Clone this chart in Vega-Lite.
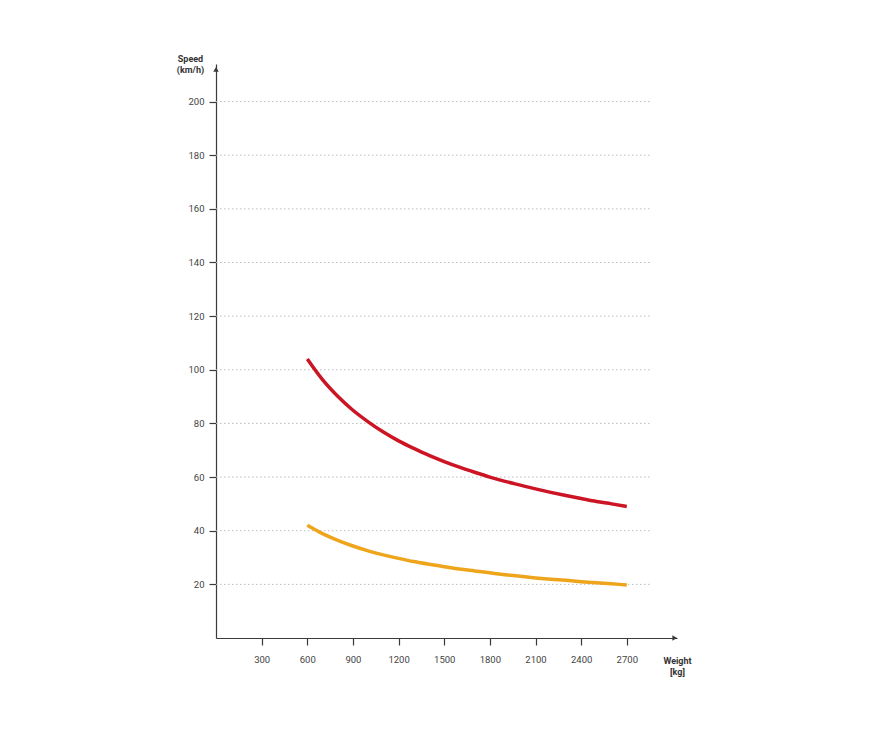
{
  "$schema": "https://vega.github.io/schema/vega-lite/v6.json",
  "autosize": "none",
  "padding": {"left": 216, "top": 64, "right": 192, "bottom": 93},
  "width": 461,
  "height": 574,
  "background": "white",
  "config": {
    "view": {"stroke": null},
    "font": "Roboto",
    "axis": {
      "domainColor": "#3a3a3a",
      "domainWidth": 1.2,
      "tickColor": "#3a3a3a",
      "tickWidth": 1.2,
      "tickSize": 7,
      "grid": false,
      "labelFont": "Roboto",
      "labelFontSize": 9.5,
      "labelColor": "#444444",
      "titleFont": "Roboto",
      "titleFontSize": 9,
      "titleFontWeight": "bold",
      "titleColor": "#333333",
      "titleLineHeight": 11
    }
  },
  "datasets": {
    "curves": [
      {"weight": 600, "speed": 104.0, "series": "high"},
      {"weight": 700, "speed": 96.3, "series": "high"},
      {"weight": 800, "speed": 90.1, "series": "high"},
      {"weight": 900, "speed": 84.9, "series": "high"},
      {"weight": 1000, "speed": 80.6, "series": "high"},
      {"weight": 1100, "speed": 76.8, "series": "high"},
      {"weight": 1200, "speed": 73.5, "series": "high"},
      {"weight": 1300, "speed": 70.7, "series": "high"},
      {"weight": 1400, "speed": 68.1, "series": "high"},
      {"weight": 1500, "speed": 65.8, "series": "high"},
      {"weight": 1600, "speed": 63.7, "series": "high"},
      {"weight": 1700, "speed": 61.8, "series": "high"},
      {"weight": 1800, "speed": 60.0, "series": "high"},
      {"weight": 1900, "speed": 58.4, "series": "high"},
      {"weight": 2000, "speed": 57.0, "series": "high"},
      {"weight": 2100, "speed": 55.6, "series": "high"},
      {"weight": 2200, "speed": 54.3, "series": "high"},
      {"weight": 2300, "speed": 53.1, "series": "high"},
      {"weight": 2400, "speed": 52.0, "series": "high"},
      {"weight": 2500, "speed": 50.9, "series": "high"},
      {"weight": 2600, "speed": 50.0, "series": "high"},
      {"weight": 2700, "speed": 49.0, "series": "high"},
      {"weight": 600, "speed": 42.0, "series": "low"},
      {"weight": 700, "speed": 38.9, "series": "low"},
      {"weight": 800, "speed": 36.4, "series": "low"},
      {"weight": 900, "speed": 34.3, "series": "low"},
      {"weight": 1000, "speed": 32.5, "series": "low"},
      {"weight": 1100, "speed": 31.0, "series": "low"},
      {"weight": 1200, "speed": 29.7, "series": "low"},
      {"weight": 1300, "speed": 28.5, "series": "low"},
      {"weight": 1400, "speed": 27.5, "series": "low"},
      {"weight": 1500, "speed": 26.6, "series": "low"},
      {"weight": 1600, "speed": 25.7, "series": "low"},
      {"weight": 1700, "speed": 25.0, "series": "low"},
      {"weight": 1800, "speed": 24.3, "series": "low"},
      {"weight": 1900, "speed": 23.6, "series": "low"},
      {"weight": 2000, "speed": 23.0, "series": "low"},
      {"weight": 2100, "speed": 22.4, "series": "low"},
      {"weight": 2200, "speed": 21.9, "series": "low"},
      {"weight": 2300, "speed": 21.5, "series": "low"},
      {"weight": 2400, "speed": 21.0, "series": "low"},
      {"weight": 2500, "speed": 20.6, "series": "low"},
      {"weight": 2600, "speed": 20.2, "series": "low"},
      {"weight": 2700, "speed": 19.8, "series": "low"}
    ],
    "grid": [
      {"speed": 20}, {"speed": 40}, {"speed": 60}, {"speed": 80}, {"speed": 100},
      {"speed": 120}, {"speed": 140}, {"speed": 160}, {"speed": 180}, {"speed": 200}
    ]
  },
  "layer": [
    {
      "data": {"name": "grid"},
      "mark": {"type": "rule", "color": "#bdbdbd", "strokeWidth": 1, "strokeDash": [1.5, 2.5]},
      "encoding": {
        "y": {
          "field": "speed",
          "type": "quantitative",
          "scale": {"domain": [0, 214], "nice": false, "zero": true},
          "axis": {
            "values": [20, 40, 60, 80, 100, 120, 140, 160, 180, 200],
            "format": "d",
            "labelPadding": 5,
            "title": ["Speed", "(km/h)"],
            "titleAngle": 0,
            "titleAlign": "center",
            "titleBaseline": "alphabetic",
            "titleX": -26,
            "titleY": -3
          }
        },
        "x": {
          "datum": 0,
          "type": "quantitative",
          "scale": {"domain": [0, 3030], "nice": false, "zero": true},
          "axis": {
            "values": [300, 600, 900, 1200, 1500, 1800, 2100, 2400, 2700],
            "format": "d",
            "labelPadding": 9,
            "title": ["Weight", "[kg]"],
            "titleAlign": "center",
            "titleBaseline": "alphabetic",
            "titleX": 461,
            "titleY": 25
          }
        },
        "x2": {"datum": 2864}
      }
    },
    {
      "data": {"name": "curves"},
      "mark": {"type": "line", "strokeWidth": 3.5, "interpolate": "monotone", "strokeCap": "butt"},
      "encoding": {
        "x": {"field": "weight", "type": "quantitative"},
        "y": {"field": "speed", "type": "quantitative"},
        "color": {
          "field": "series",
          "type": "nominal",
          "scale": {"domain": ["high", "low"], "range": ["#cc1424", "#eea51c"]},
          "legend": null
        }
      }
    },
    {
      "data": {"values": [{"k": 1}]},
      "mark": {"type": "point", "shape": "triangle-up", "filled": true, "color": "#3a3a3a", "size": 30, "opacity": 1},
      "encoding": {
        "x": {"datum": 0, "type": "quantitative"},
        "y": {"datum": 212, "type": "quantitative"}
      }
    },
    {
      "data": {"values": [{"k": 1}]},
      "mark": {"type": "point", "shape": "triangle-right", "filled": true, "color": "#3a3a3a", "size": 30, "opacity": 1},
      "encoding": {
        "x": {"datum": 3015, "type": "quantitative"},
        "y": {"datum": 0, "type": "quantitative"}
      }
    }
  ]
}
